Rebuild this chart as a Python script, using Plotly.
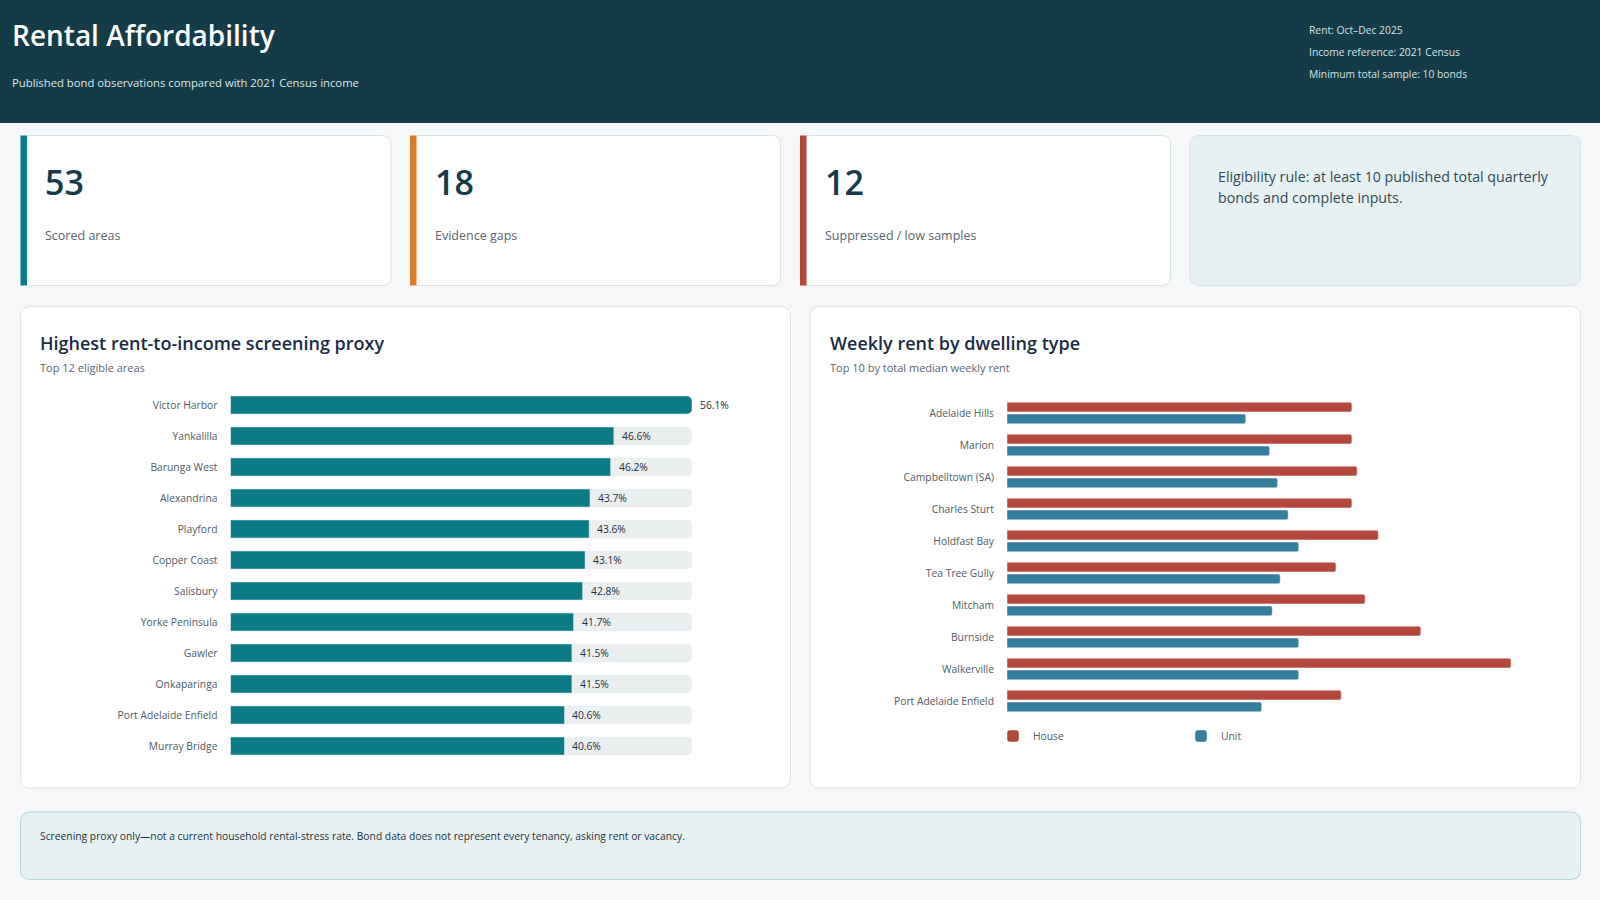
import plotly.graph_objects as go

W, H = 1600, 900
FONT = "Open Sans, Noto Sans, DejaVu Sans, sans-serif"

# ---------------- data ----------------
proxy_areas = ["Victor Harbor", "Yankalilla", "Barunga West", "Alexandrina", "Playford",
               "Copper Coast", "Salisbury", "Yorke Peninsula", "Gawler", "Onkaparinga",
               "Port Adelaide Enfield", "Murray Bridge"]
proxy_values = [56.1, 46.6, 46.2, 43.7, 43.6, 43.1, 42.8, 41.7, 41.5, 41.5, 40.6, 40.6]

rent_areas = ["Adelaide Hills", "Marion", "Campbelltown (SA)", "Charles Sturt", "Holdfast Bay",
              "Tea Tree Gully", "Mitcham", "Burnside", "Walkerville", "Port Adelaide Enfield"]
house_rent = [650, 650, 660, 650, 700, 620, 675, 780, 950, 630]
unit_rent = [450, 495, 510, 530, 550, 515, 500, 550, 550, 480]

kpi_values = ["53", "18", "12"]
kpi_labels = ["Scored areas", "Evidence gaps", "Suppressed / low samples"]
kpi_colors = ["#0B7C86", "#D97B2A", "#B5473B"]

# ---------------- colours ----------------
HEADER = "#143B47"
PAGE = "#F5F7F8"
TEAL = "#0B7C86"
TRACK = "#ECEFF0"
HOUSE = "#B5473B"
UNIT = "#367C9B"
NAVY = "#1B2B45"
GREY = "#5A6670"


def px(x):
    return x / W


def py(y):
    return 1 - y / H


def rrect(x0, y0, x1, y1, r):
    def P(x, y):
        return f"{px(x):.6f},{py(y):.6f}"
    return (f"M {P(x0 + r, y0)} L {P(x1 - r, y0)} Q {P(x1, y0)} {P(x1, y0 + r)} "
            f"L {P(x1, y1 - r)} Q {P(x1, y1)} {P(x1 - r, y1)} L {P(x0 + r, y1)} "
            f"Q {P(x0, y1)} {P(x0, y1 - r)} L {P(x0, y0 + r)} Q {P(x0, y0)} {P(x0 + r, y0)} Z")


shapes = []
annotations = []
PAD = 2  # annotation inner padding compensation


def text(x, y, s, size, color, weight=None, xanchor="left", yanchor="middle"):
    f = dict(family=FONT, size=size, color=color)
    if weight:
        f["weight"] = weight
    annotations.append(dict(x=px(x - PAD), y=py(y), xref="paper", yref="paper", text=s,
                            showarrow=False, xanchor=xanchor, yanchor=yanchor, font=f))


# header
shapes.append(dict(type="rect", xref="paper", yref="paper", x0=0, x1=1, y0=py(123), y1=1,
                   fillcolor=HEADER, line=dict(width=0), layer="below"))
text(12, 35, "Rental Affordability", 28, "#FFFFFF", weight=600)
text(12, 83, "Published bond observations compared with 2021 Census income", 11.3, "#DCE8EB")
for yy, s in zip([30, 52, 73.5], ["Rent: Oct\u2013Dec 2025", "Income reference: 2021 Census",
                                  "Minimum total sample: 10 bonds"]):
    text(1309, yy, s, 10.3, "#D5E2E6")

# KPI cards
card_x = [20.5, 410, 800]
card_w = 370.5
ct, cb = 135.5, 285.5
for i, cx in enumerate(card_x):
    shapes.append(dict(type="path", path=rrect(cx, ct, cx + card_w, cb, 9), xref="paper", yref="paper",
                       fillcolor="#FFFFFF", line=dict(color="#D8E3E7", width=1), layer="below"))
    shapes.append(dict(type="rect", xref="paper", yref="paper", x0=px(cx), x1=px(cx + 6.5),
                       y0=py(cb), y1=py(ct), fillcolor=kpi_colors[i], line=dict(width=0), layer="below"))
    text(cx + 24.5, 182.5, kpi_values[i], 34, HEADER, weight=600)
    text(cx + 24.5, 235.5, kpi_labels[i], 12.5, GREY)

shapes.append(dict(type="path", path=rrect(1190, ct, 1580.5, cb, 10), xref="paper", yref="paper",
                   fillcolor="#E8F1F2", line=dict(color="#D3E2E5", width=1), layer="below"))
text(1218, 176.5, "Eligibility rule: at least 10 published total quarterly", 14.2, "#2F4A55")
text(1218, 197, "bonds and complete inputs.", 14.2, "#2F4A55")

# panels
for x0, x1 in [(20.5, 790.5), (810, 1580.5)]:
    shapes.append(dict(type="path", path=rrect(x0, 306.5, x1, 788, 10), xref="paper", yref="paper",
                       fillcolor="#FFFFFF", line=dict(color="#DCE5EA", width=1), layer="below"))
text(40, 343, "Highest rent-to-income screening proxy", 18, NAVY, weight=600)
text(40, 367.5, "Top 12 eligible areas", 11, GREY)
text(829.5, 343, "Weekly rent by dwelling type", 18, NAVY, weight=600)
text(829.5, 367.5, "Top 10 by total median weekly rent", 11, GREY)

# footer
shapes.append(dict(type="path", path=rrect(20.5, 812, 1580.5, 879.5, 10), xref="paper", yref="paper",
                   fillcolor="#E8F1F2", line=dict(color="#B4D6D8", width=1), layer="below"))
text(40, 835.5, "Screening proxy only\u2014not a current household rental-stress rate. "
                "Bond data does not represent every tenancy, asking rent or vacancy.", 10.3, "#1F3340")

fig = go.Figure()

# left chart: track + value bars
pmax = max(proxy_values)
fig.add_trace(go.Bar(y=proxy_areas, x=[pmax] * len(proxy_areas), orientation="h",
                     marker=dict(color=TRACK, cornerradius=5), width=0.58,
                     xaxis="x", yaxis="y", showlegend=False, hoverinfo="skip"))
fig.add_trace(go.Bar(y=proxy_areas, x=proxy_values, orientation="h", name="Proxy",
                     marker=dict(color=TEAL, cornerradius=5), width=0.58,
                     xaxis="x", yaxis="y", showlegend=False))
for a, v in zip(proxy_areas, proxy_values):
    annotations.append(dict(x=v, y=a, xref="x", yref="y", text=f"{v:.1f}%", showarrow=False,
                            xanchor="left", yanchor="middle", xshift=6,
                            font=dict(family=FONT, size=10.3, color="#1F2D3D")))

# right chart: grouped via explicit offsets
fig.add_trace(go.Bar(y=rent_areas, x=house_rent, orientation="h", name="House",
                     marker=dict(color=HOUSE, cornerradius=2), width=0.3, offset=-0.335,
                     xaxis="x2", yaxis="y2"))
fig.add_trace(go.Bar(y=rent_areas, x=unit_rent, orientation="h", name="Unit",
                     marker=dict(color=UNIT, cornerradius=2), width=0.3, offset=0.035,
                     xaxis="x2", yaxis="y2"))

tickfont = dict(family=FONT, size=10.3, color="#4F5B66")
fig.update_layout(
    width=W, height=H, autosize=False,
    margin=dict(l=0, r=0, t=0, b=0),
    paper_bgcolor=PAGE, plot_bgcolor="rgba(0,0,0,0)",
    barmode="overlay",
    shapes=shapes, annotations=annotations,
    font=dict(family=FONT),
    xaxis=dict(domain=[px(230.5), px(692)], range=[0, pmax], visible=False, fixedrange=True),
    yaxis=dict(domain=[py(761.5), py(389.5)], autorange="reversed", showgrid=False,
               zeroline=False, showline=False, ticks="", tickfont=tickfont,
               ticklabelstandoff=12, fixedrange=True),
    xaxis2=dict(domain=[px(1007), px(1537.5)], range=[0, 1000], visible=False, fixedrange=True),
    yaxis2=dict(domain=[py(717), py(397)], autorange="reversed", showgrid=False,
                zeroline=False, showline=False, ticks="", tickfont=tickfont,
                ticklabelstandoff=12, fixedrange=True, anchor="x2"),
    legend=dict(orientation="h", x=px(993), y=py(736), xanchor="left", yanchor="middle",
                font=dict(family=FONT, size=10.3, color="#4F5B66"), bgcolor="rgba(0,0,0,0)",
                entrywidth=143, entrywidthmode="pixels", traceorder="normal"),
    hovermode=False,
)

fig.write_html("out.html", config={"displayModeBar": False},
               post_script="document.body.style.margin='0';")
